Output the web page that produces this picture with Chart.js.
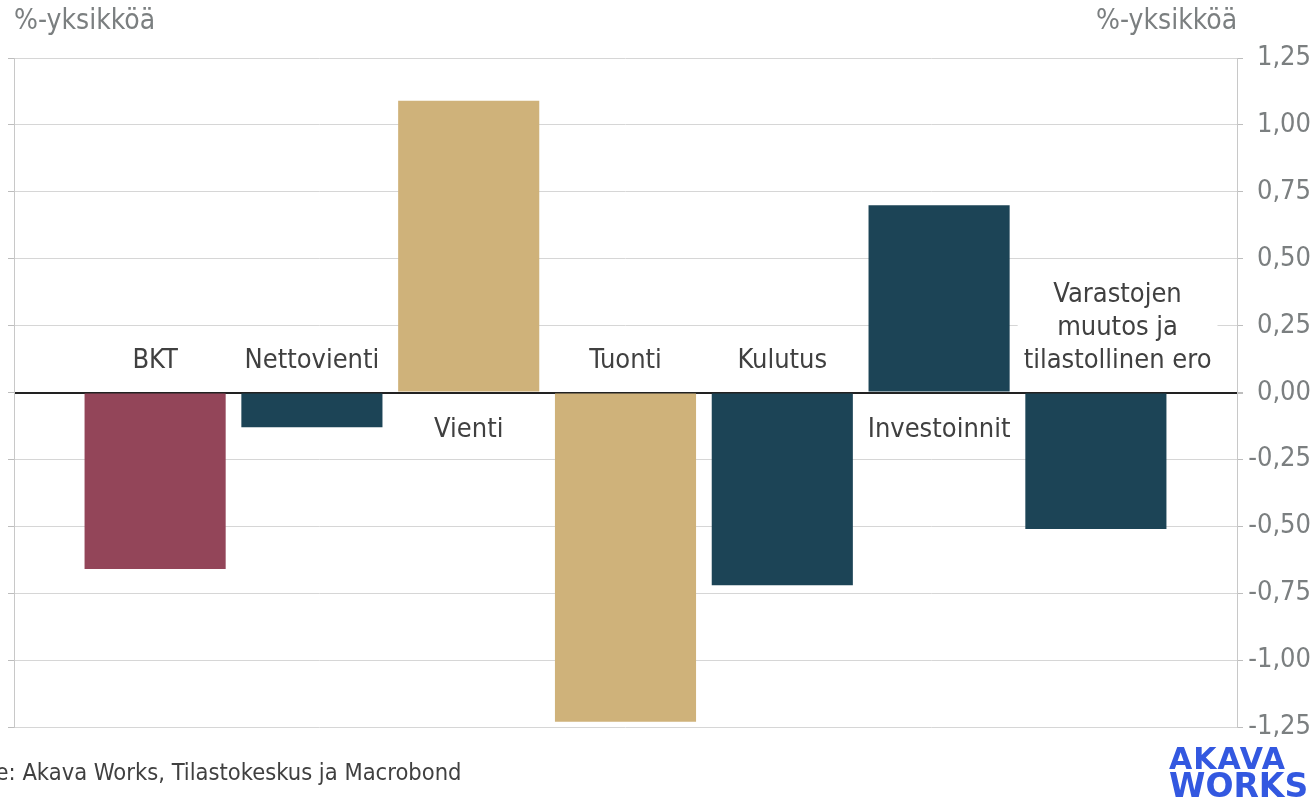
<!DOCTYPE html>
<html>
<head>
<meta charset="utf-8">
<script src="https://cdn.jsdelivr.net/npm/chart.js@4"></script>
<style>
    html, body { margin: 0; padding: 0; background: #fff; }
    body { width: 1315px; height: 800px; position: relative; overflow: hidden; font-family: "DejaVu Sans Condensed", "DejaVu Sans", sans-serif; }
    #wrap { position: absolute; left: 0; top: 0; width: 1315px; height: 800px; }
    .unit { position: absolute; top: 3px; font-size: 28px; color: #7b7f80; }
    #source { position: absolute; left: -56px; top: 758px; font-size: 23.5px; color: #404040; white-space: nowrap; }
    #logo { position: absolute; left: 1169px; top: 745px; font-family: "DejaVu Sans", sans-serif; font-weight: bold; color: #3358e0; line-height: 27px; }
</style>
</head>
<body>
<div id="wrap"><canvas id="chart" width="1315" height="800"></canvas></div>
<div class="unit" style="left:14px">%-yksikköä</div>
<div class="unit" style="left:1096px">%-yksikköä</div>
<div id="source">Lähde: Akava Works, Tilastokeskus ja Macrobond</div>
<div id="logo"><div style="letter-spacing:1px;font-size:30px">AKAVA</div><div style="font-size:33px">WORKS</div></div>
<script>
const categories = ['BKT', 'Nettovienti', 'Vienti', 'Tuonti', 'Kulutus', 'Investoinnit', ['Varastojen', 'muutos ja', 'tilastollinen ero']];
const values = [-0.66, -0.13, 1.09, -1.23, -0.72, 0.70, -0.51];
const barColors = ['#934559', '#1c4456', '#cfb27a', '#cfb27a', '#1c4456', '#1c4456', '#1c4456'];
const yTicks = [-1.25, -1.00, -0.75, -0.50, -0.25, 0.00, 0.25, 0.50, 0.75, 1.00, 1.25];

const labelFont = '27px "DejaVu Sans Condensed", "DejaVu Sans", sans-serif';

// category names sit on the other side of the zero line from the bar,
// nudged right if their white box would run into the previous bar
const barLabels = {
    id: 'barLabels',
    afterDatasetsDraw(chart) {
        const ctx = chart.ctx;
        const y0 = chart.scales.y.getPixelForValue(0);
        const area = chart.chartArea;
        const bars = chart.getDatasetMeta(0).data;
        const lineH = 33, pad = 6, gap = 8;
        bars.forEach((bar, i) => {
            const lines = [].concat(categories[i]);
            const neg = values[i] < 0;
            ctx.save();
            ctx.font = labelFont;
            ctx.textAlign = 'center';
            ctx.textBaseline = 'middle';
            const w = Math.max(...lines.map(l => ctx.measureText(l).width));
            let cx = bar.x;
            const prev = bars[i - 1];
            if (prev && neg === (values[i - 1] > 0)) {
                const prevRight = prev.x + prev.width / 2;
                cx = Math.max(cx, prevRight + gap + pad + w / 2);
            }
            const firstY = neg ? y0 - 32 - (lines.length - 1) * lineH : y0 + 37;
            const top = firstY - lineH / 2 - 4;
            const h = lines.length * lineH + 6;
            ctx.fillStyle = '#fff';
            const left = Math.max(cx - w / 2 - pad, area.left + 2);
            const right = Math.min(cx + w / 2 + pad, area.right - 1);
            ctx.fillRect(left, Math.max(top, area.top), right - left, Math.min(h, (neg ? y0 - 2 : area.bottom) - top));
            ctx.fillStyle = '#404040';
            lines.forEach((l, k) => ctx.fillText(l, cx, firstY + k * lineH));
            ctx.restore();
        });
    }
};

new Chart(document.getElementById('chart'), {
    type: 'bar',
    data: {
        datasets: [{
            data: values.map((v, i) => ({ x: i, y: v })),
            backgroundColor: barColors,
            borderWidth: 0,
            categoryPercentage: 1,
            barPercentage: 0.9,
        }]
    },
    options: {
        responsive: false,
        animation: false,
        layout: { padding: { top: 58, bottom: 73, left: 8, right: 4 } },
        plugins: { legend: { display: false }, tooltip: { enabled: false } },
        scales: {
            x: {
                type: 'linear',
                min: -0.9,
                max: 6.9,
                offset: false,
                display: false,
                afterBuildTicks: scale => { scale.ticks = categories.map((_, i) => ({ value: i })); },
            },
            y: {
                position: 'right',
                min: -1.25,
                max: 1.25,
                afterBuildTicks: scale => { scale.ticks = yTicks.map(v => ({ value: v })); },
                afterFit: scale => { scale.width = 74; },
                ticks: {
                    color: '#7b7f80',
                    font: { family: '"DejaVu Sans Condensed", "DejaVu Sans", sans-serif', size: 27 },
                    crossAlign: 'far',
                    padding: 3,
                    callback: v => v.toFixed(2).replace('.', ','),
                },
                grid: {
                    color: c => c.tick && c.tick.value === 0 ? '#222' : '#d6d6d6',
                    lineWidth: c => c.tick && c.tick.value === 0 ? 2 : 1,
                    tickLength: 6,
                    tickColor: '#bdbdbd',
                },
                border: { color: '#c8c8c8', width: 1 },
            },
            yLeft: {
                position: 'left',
                min: -1.25,
                max: 1.25,
                afterBuildTicks: scale => { scale.ticks = yTicks.map(v => ({ value: v })); },
                ticks: { display: false },
                grid: { drawOnChartArea: false, tickLength: 6, color: '#bdbdbd' },
                border: { color: '#c8c8c8', width: 1 },
            }
        }
    },
    plugins: [barLabels]
});
</script>
</body>
</html>
